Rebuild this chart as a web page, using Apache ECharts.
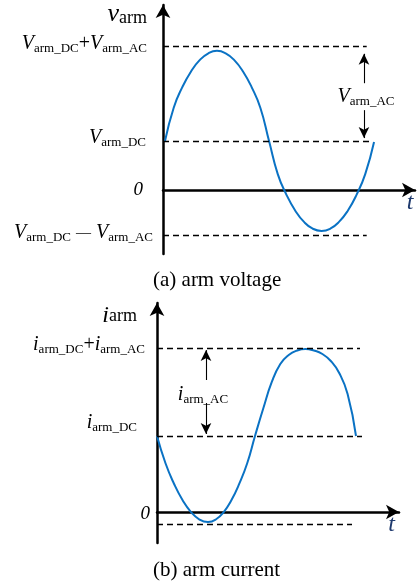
<!DOCTYPE html>
<html>
<head>
<meta charset="utf-8">
<script src="https://cdn.jsdelivr.net/npm/echarts@6/dist/echarts.min.js"></script>
<style>
  html, body { margin: 0; padding: 0; background: #fff; }
  #c { width: 418px; height: 584px; }
</style>
</head>
<body>
<div id="c"></div>
<script>
// ---- (a) arm voltage: one cycle, t in ms, values in units of V_arm_DC ----
const timeV = [0.19, 1.02, 1.84, 2.67, 3.49, 4.32, 5.14, 5.97, 6.79, 7.62, 8.44, 9.27, 10.10,
               10.93, 11.76, 12.60, 13.43, 14.26, 15.10, 15.93, 16.76, 17.60, 18.43, 19.26, 20.10];
const armVoltage = [1.0, 1.68, 2.10, 2.42, 2.65, 2.79, 2.84, 2.79, 2.65, 2.42, 2.10, 1.68, 1.0,
                    0.325, -0.098, -0.422, -0.651, -0.790, -0.837, -0.790, -0.651, -0.422, -0.098, 0.325, 0.98];
const vDC = 1.0;
const vAC = 1.93;
const vGuideEnd = [19.4, 19.8, 19.4];      // ends of DC+AC, DC, DC-AC guides
const vArrowT = 19.14;
const vArrowUp = [2.18, 2.78];
const vArrowDown = [1.63, 1.06];
const vAcLabelAt = [19.33, 1.91];

// ---- (b) arm current: one cycle, t in ms, values in units of i_arm_DC ----
const timeI = [0, 0.85, 1.70, 2.55, 3.40, 4.25, 5.10, 5.88, 6.67, 7.45, 8.23, 9.02, 9.80,
               10.64, 11.48, 12.33, 13.17, 14.01, 14.85, 15.69, 16.54, 17.38, 18.22, 19.06, 19.90];
const armCurrent = [1.0, 0.641, 0.372, 0.157, -0.001, -0.099, -0.132, -0.099, -0.001, 0.157, 0.372, 0.641, 1.0,
                    1.368, 1.711, 1.947, 2.066, 2.125, 2.145, 2.125, 2.079, 1.987, 1.829, 1.553, 1.0];
const iDC = 1.0;
const iAC = 1.158;
const iGuideEnd = [20.3, 20.5, 19.5];
const iArrowT = 4.9;
const iArrowUp = [1.737, 2.13];
const iArrowDown = [1.434, 1.026];
const iAcLabelAt = [4.6, 1.54];

// ---- tick label texts: [piece, kind] (i = italic symbol, s = subscript, o = operator, z = italic zero, d = dash)
const vTickText = [
  [['V', 'i'], ['arm_DC', 's'], ['+', 'o'], ['V', 'i'], ['arm_AC', 's']],
  [['V', 'i'], ['arm_DC', 's']],
  [['0', 'z']],
  [['V', 'i'], ['arm_DC', 's'], ['\u2014', 'd'], ['V', 'i'], ['arm_AC', 's']]
];
const iTickText = [
  [['i', 'i'], ['arm_DC', 's'], ['+', 'o'], ['i', 'i'], ['arm_AC', 's']],
  [['i', 'i'], ['arm_DC', 's']],
  [['0', 'z']],
  [['i', 'i'], ['arm_DC', 's'], ['-', 'o'], ['i', 'i'], ['arm_AC', 's']]
];
const vAcText = [['V', 'i'], ['arm_AC', 's']];
const iAcText = [['i', 'i'], ['arm_AC', 's']];
const captions = ['(a) arm voltage', '(b) arm current'];

const vLevels = [vDC + vAC, vDC, 0, vDC - vAC];
const iLevels = [iDC + iAC, iDC, 0, iDC - iAC];

const F = 'Liberation Serif';
const KIND = {
  i: { size: 20, italic: true, off: 0, side: 0 },
  s: { size: 13, italic: false, off: 5, side: 0 },
  o: { size: 20, italic: false, off: 0, side: 0 },
  z: { size: 19, italic: true, off: 0, side: 0 },
  d: { size: 15, italic: false, off: 0, side: 5 }
};

// token padding: vertical centre offset t (positive = down), right r, side spacing s
function pad(t, r, s) {
  return t >= 0 ? [2 * t, r + s, 0, s] : [0, r + s, -2 * t, s];
}

function richLabel(prefix, parts, shift, padR) {
  const rich = {};
  let text = '';
  parts.forEach(function (p, j) {
    const name = prefix + j;
    const st = KIND[p[1]];
    rich[name] = {
      fontFamily: F, color: '#000', fontSize: st.size, lineHeight: st.size,
      fontStyle: st.italic ? 'italic' : 'normal',
      padding: pad(st.off - shift, j === parts.length - 1 ? padR : 0, st.side)
    };
    text += '{' + name + '|' + p[0] + '}';
  });
  return { text: text, rich: rich };
}

function tickLabels(prefix, texts, shifts, padRs) {
  const out = { texts: [], rich: {} };
  texts.forEach(function (parts, k) {
    const r = richLabel(prefix + k + '_', parts, shifts[k], padRs[k]);
    out.texts.push(r.text);
    Object.assign(out.rich, r.rich);
  });
  return out;
}

const vTicks = tickLabels('v', vTickText, [3, 3, 0, 3], [6, 7, 10, 0]);
const iTicks = tickLabels('c', iTickText, [3, 13, -2, -10], [5, 13, 0, 5]);
const vAcLbl = richLabel('va', vAcText, 0, 0);
const iAcLbl = richLabel('ia', iAcText, 0, 0);

function pickLabel(levels, texts) {
  return function (val) {
    for (let k = 0; k < levels.length; k++) {
      if (Math.abs(levels[k] - val) < 1e-4) return texts[k];
    }
    return '';
  };
}

const AXIS_LINE = { color: '#000', width: 2.5 };

function xAxisDef(grid, max, gap) {
  return {
    gridIndex: grid, type: 'value', min: 0, max: max,
    axisLine: { onZero: true, symbol: ['none', 'arrow'], symbolSize: [11, 13], lineStyle: AXIS_LINE },
    axisTick: { show: false }, axisLabel: { show: false }, splitLine: { show: false },
    name: 't', nameLocation: 'end', nameGap: gap, nameMoveOverlap: false,
    nameTextStyle: {
      fontFamily: F, fontStyle: 'italic', fontSize: 24, color: '#1F3A6E',
      align: 'center', verticalAlign: 'top', padding: [1, 0, 0, 0], lineHeight: 24
    }
  };
}

function yAxisDef(grid, min, max, levels, ticks, margin, sym, symSize, gap, padR, subPad) {
  return {
    gridIndex: grid, type: 'value', min: min, max: max,
    axisLine: { onZero: true, symbol: ['none', 'arrow'], symbolSize: [11, 13], lineStyle: AXIS_LINE },
    axisTick: { show: false }, splitLine: { show: false },
    axisLabel: {
      customValues: levels, margin: margin,
      formatter: pickLabel(levels, ticks.texts), rich: ticks.rich
    },
    name: '{n|' + sym + '}{a|arm}', nameLocation: 'end', nameGap: gap, nameMoveOverlap: false,
    nameTextStyle: {
      align: 'right', verticalAlign: 'middle', padding: [0, padR, 0, 0],
      rich: {
        n: { fontFamily: F, fontSize: symSize, fontStyle: 'italic', color: '#000', lineHeight: symSize },
        a: { fontFamily: F, fontSize: 18, color: '#000', lineHeight: 18, padding: [subPad, 0, 0, 0] }
      }
    }
  };
}

function guideLines(levels, ends) {
  return [0, 1, 3].map(function (k, j) {
    return [{ coord: [0, levels[k]] }, { coord: [ends[j], levels[k]] }];
  });
}

function arrowLine(t, span) {
  return [
    { coord: [t, span[0]], symbol: 'none', lineStyle: { type: 'solid', width: 1.1, color: '#000' } },
    { coord: [t, span[1]], symbol: 'arrow', symbolSize: [8, 11] }
  ];
}

function waveSeries(axis, ts, vals, levels, ends, at, up, down, lbl, lblAt) {
  return {
    type: 'line', xAxisIndex: axis, yAxisIndex: axis,
    data: ts.map(function (t, k) { return [t, vals[k]]; }),
    smooth: 0.5, showSymbol: false, symbol: 'none', z: 3,
    lineStyle: { color: '#0A72C4', width: 2 },
    markLine: {
      silent: true, symbol: 'none', animation: false,
      label: { show: false },
      lineStyle: { color: '#000', width: 1.4, type: [6, 4] },
      data: guideLines(levels, ends).concat([arrowLine(at, up), arrowLine(at, down)])
    },
    markPoint: {
      silent: true, symbol: 'circle', symbolSize: 1, animation: false,
      itemStyle: { color: 'rgba(0,0,0,0)' },
      label: { show: true, position: 'inside', color: '#000', formatter: lbl.text, rich: lbl.rich },
      data: [{ coord: lblAt }]
    }
  };
}

const captionStyle = { fontFamily: F, fontSize: 21, fontWeight: 'normal', color: '#000' };

const option = {
  animation: false,
  backgroundColor: '#fff',
  title: [
    { text: captions[0], left: 153, top: 270, padding: 0, textStyle: captionStyle },
    { text: captions[1], left: 153, top: 560, padding: 0, textStyle: captionStyle }
  ],
  grid: [
    { left: 163, right: 3, top: 5, height: 249, outerBoundsMode: 'none' },
    { left: 157, right: 19, top: 303, height: 240, outerBoundsMode: 'none' }
  ],
  xAxis: [xAxisDef(0, 24.0, -5), xAxisDef(1, 24.2, -7.5)],
  yAxis: [
    yAxisDef(0, -1.306, 3.776, vLevels, vTicks, 10, 'v', 26, -9.6, 16, 8),
    yAxisDef(1, -0.408, 2.75, iLevels, iTicks, 7, 'i', 24, -12.2, 20, 3)
  ],
  series: [
    waveSeries(0, timeV, armVoltage, vLevels, vGuideEnd, vArrowT, vArrowUp, vArrowDown, vAcLbl, vAcLabelAt),
    waveSeries(1, timeI, armCurrent, iLevels, iGuideEnd, iArrowT, iArrowUp, iArrowDown, iAcLbl, iAcLabelAt)
  ]
};

const chart = echarts.init(document.getElementById('c'), null, { renderer: 'canvas' });
chart.setOption(option);
</script>
</body>
</html>
